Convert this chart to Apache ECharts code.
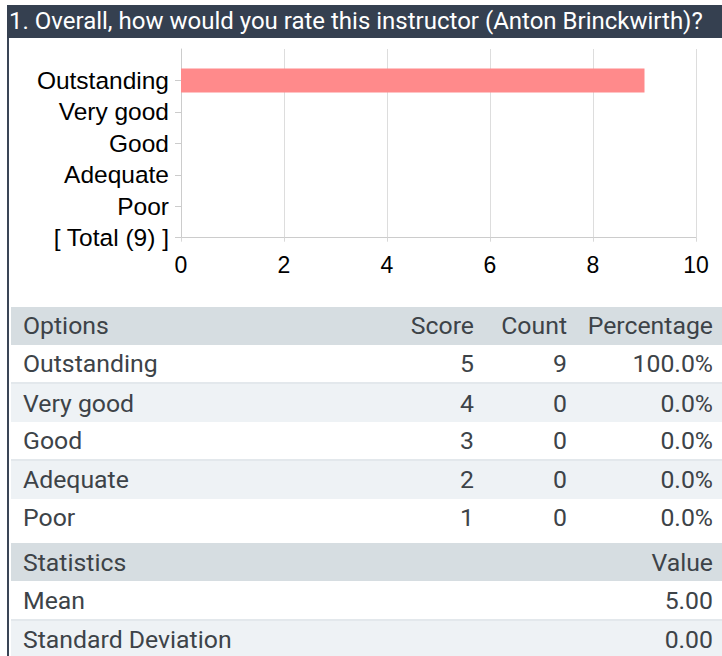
<!DOCTYPE html>
<html>
<head>
<meta charset="utf-8">
<title>Instructor rating</title>
<script src="https://cdn.jsdelivr.net/npm/echarts@6/dist/echarts.min.js"></script>
<style>
  html, body { margin: 0; padding: 0; background: #fff; }
  body { width: 722px; height: 656px; position: relative; overflow: hidden; }
  #frame { position: absolute; left: 7px; top: 5px; width: 715px; height: 651px; border-left: 2px solid #3a4556; box-sizing: border-box; z-index: 3; pointer-events: none; }
  #title { position: absolute; left: 7px; top: 5px; width: 715px; height: 33px; background: #354050; color: #fff;
           font-family: Roboto, "Liberation Sans", Arial, sans-serif; font-size: 24px; line-height: 33px; padding-left: 2px;
           box-sizing: border-box; white-space: nowrap; overflow: hidden; z-index: 4; }
  #chart { position: absolute; left: 0; top: 38px; width: 722px; height: 262px; }
  table { position: absolute; left: 11px; width: 711px; border-collapse: collapse; table-layout: fixed;
          font-family: Roboto, "Liberation Sans", Arial, sans-serif; font-size: 24.8px; color: #3d4348; }
  td { height: 38.4px; padding: 0; white-space: nowrap; box-sizing: border-box; }
  tr.head td { background: #d6dde1; }
  tr.alt td { background: #eef2f5; border-top: 2px solid #e3e8ec; }
  td.name { padding-left: 12px; text-align: left; }
  td.num { text-align: right; }
  td.last { text-align: right; padding-right: 9px; }
  #options { top: 306.7px; }
  #stats { top: 543px; }
</style>
</head>
<body>
<div id="title">1. Overall, how would you rate this instructor (Anton Brinckwirth)?</div>
<div id="frame"></div>
<div id="chart"></div>
<table id="options"></table>
<table id="stats"></table>
<script>
// Answer options, top to bottom
const categories = ['Outstanding', 'Very good', 'Good', 'Adequate', 'Poor'];
const scores = [5, 4, 3, 2, 1];
const counts = [9, 0, 0, 0, 0];
const percentages = ['100.0%', '0.0%', '0.0%', '0.0%', '0.0%'];
const totalLabel = '[ Total (9) ]';

// Summary statistics
const statNames = ['Mean', 'Standard Deviation'];
const statValues = ['5.00', '0.00'];

// Column headers
const optionHeaders = ['Options', 'Score', 'Count', 'Percentage'];
const statHeaders = ['Statistics', 'Value'];

// Value axis
const xMin = 0, xMax = 10, xStep = 2;

// --- bar chart ---
// bottom-to-top category order: total row at the base, empty slot at the top
const yCats = [totalLabel].concat(categories.slice().reverse(), ['']);
const barData = [null].concat(counts.slice().reverse(), [null]);

const chart = echarts.init(document.getElementById('chart'), null, { renderer: 'svg' });
const labelFont = '"Liberation Sans", Arial, sans-serif';
chart.setOption({
  animation: false,
  grid: { left: 181, right: 26, top: 11, height: 188.7, containLabel: false },
  xAxis: {
    type: 'value', min: xMin, max: xMax, interval: xStep,
    axisLine: { show: true, lineStyle: { color: '#cccccc', width: 1 } },
    axisTick: { show: true, length: 4, lineStyle: { color: '#d8d8d8' } },
    splitLine: { show: true, lineStyle: { color: '#dddddd', width: 1 } },
    axisLabel: { color: '#000', fontSize: 23, fontFamily: labelFont, margin: 16 }
  },
  yAxis: {
    type: 'category', data: yCats, boundaryGap: false,
    axisLine: { show: true, lineStyle: { color: '#cccccc', width: 1 } },
    axisTick: { show: true, length: 6, lineStyle: { color: '#cccccc' },
                interval: function (i, v) { return v !== ''; } },
    splitLine: { show: false },
    axisLabel: { color: '#000', fontSize: 24.5, fontFamily: labelFont, margin: 12, interval: 0 }
  },
  series: [{
    type: 'bar', data: barData, barWidth: 24,
    itemStyle: { color: '#ff8a8b' },
    silent: true
  }]
});

// --- tables ---
function cell(text, cls) {
  const td = document.createElement('td');
  td.className = cls;
  td.textContent = text;
  return td;
}
function addRow(table, cells, rowClass) {
  const tr = document.createElement('tr');
  if (rowClass) tr.className = rowClass;
  cells.forEach(c => tr.appendChild(c));
  table.appendChild(tr);
}

const opt = document.getElementById('options');
const cg = document.createElement('colgroup');
[389, 74, 93, 155].forEach(w => { const c = document.createElement('col'); c.style.width = w + 'px'; cg.appendChild(c); });
opt.appendChild(cg);
addRow(opt, [cell(optionHeaders[0], 'name'), cell(optionHeaders[1], 'num'), cell(optionHeaders[2], 'num'), cell(optionHeaders[3], 'last')], 'head');
categories.forEach((c, i) => {
  addRow(opt, [cell(c, 'name'), cell(String(scores[i]), 'num'), cell(String(counts[i]), 'num'), cell(percentages[i], 'last')], i % 2 ? 'alt' : '');
});

const st = document.getElementById('stats');
addRow(st, [cell(statHeaders[0], 'name'), cell(statHeaders[1], 'last')], 'head');
statNames.forEach((n, i) => {
  addRow(st, [cell(n, 'name'), cell(statValues[i], 'last')], i % 2 ? 'alt' : '');
});
</script>
</body>
</html>
